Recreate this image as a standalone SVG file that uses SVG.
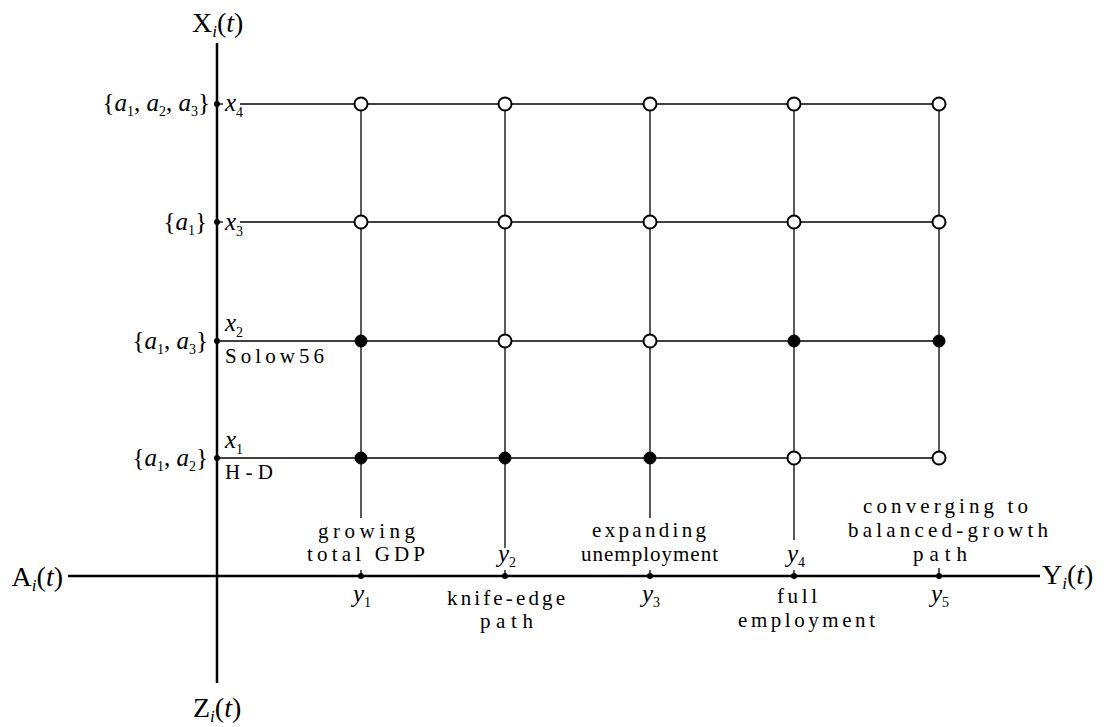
<svg xmlns="http://www.w3.org/2000/svg" width="1107" height="727" viewBox="0 0 1107 727">
<style>
.ax{stroke:#000;stroke-width:2.5;fill:none}
.gl{stroke:#000;stroke-width:1.3;fill:none}
.open{fill:#fff;stroke:#000;stroke-width:2}
.full{fill:#000;stroke:#000;stroke-width:1}
.dot{fill:#000}
.m{font-family:"Liberation Serif","Times New Roman",serif;font-size:28px;fill:#000}
.s{font-family:"Liberation Serif","Times New Roman",serif;font-size:25px;fill:#000}
.it{font-style:italic}
.sub{font-size:14px;font-style:normal}
.subi{font-size:17px;font-style:italic}
.lb{font-family:"Liberation Serif","Times New Roman",serif;font-size:21px;fill:#000}
</style>
<rect width="1107" height="727" fill="#fff"/>
<g id="connectors">
  <line class="ax" x1="217" y1="43" x2="217" y2="683"/>
  <line class="ax" x1="68" y1="576" x2="1040" y2="576"/>
  <line class="gl" x1="240" y1="104" x2="939" y2="104"/>
  <line class="gl" x1="240" y1="222" x2="939" y2="222"/>
  <line class="gl" x1="217" y1="341" x2="939" y2="341"/>
  <line class="gl" x1="217" y1="458" x2="939" y2="458"/>
  <line class="gl" x1="217" y1="104" x2="223" y2="104"/>
  <line class="gl" x1="217" y1="222" x2="223" y2="222"/>
  <line class="gl" x1="361" y1="104" x2="361" y2="518"/>
  <line class="gl" x1="505" y1="104" x2="505" y2="548"/>
  <line class="gl" x1="650" y1="104" x2="650" y2="518"/>
  <line class="gl" x1="794" y1="104" x2="794" y2="540"/>
  <line class="gl" x1="939" y1="104" x2="939" y2="458"/>
  <line class="gl" x1="361" y1="570" x2="361" y2="576"/>
  <line class="gl" x1="505" y1="570" x2="505" y2="576"/>
  <line class="gl" x1="650" y1="570" x2="650" y2="576"/>
  <line class="gl" x1="794" y1="570" x2="794" y2="576"/>
  <line class="gl" x1="939" y1="568" x2="939" y2="576"/>
</g>
<g id="axis-labels">
  <text class="m" x="192" y="32">X<tspan class="subi" dy="5">i</tspan><tspan dy="-5">(</tspan><tspan class="it">t</tspan>)</text>
  <text class="m" x="63" y="586" text-anchor="end">A<tspan class="subi" dy="5">i</tspan><tspan dy="-5">(</tspan><tspan class="it">t</tspan>)</text>
  <text class="m" x="1042" y="584">Y<tspan class="subi" dy="5">i</tspan><tspan dy="-5">(</tspan><tspan class="it">t</tspan>)</text>
  <text class="m" x="193" y="717">Z<tspan class="subi" dy="5">i</tspan><tspan dy="-5">(</tspan><tspan class="it">t</tspan>)</text>
</g>
<g id="x-axis-points">
  <g id="x4">
    <circle class="dot" cx="217" cy="104" r="3"/>
    <text class="s" x="210" y="111" text-anchor="end">{<tspan class="it">a</tspan><tspan class="sub" dy="5">1</tspan><tspan dy="-5">, </tspan><tspan class="it">a</tspan><tspan class="sub" dy="5">2</tspan><tspan dy="-5">, </tspan><tspan class="it">a</tspan><tspan class="sub" dy="5">3</tspan><tspan dy="-5">}</tspan></text>
    <text class="s it" x="225" y="111">x<tspan class="sub" dy="6">4</tspan></text>
  </g>
  <g id="x3">
    <circle class="dot" cx="217" cy="222" r="3"/>
    <text class="s" x="207" y="230" text-anchor="end">{<tspan class="it">a</tspan><tspan class="sub" dy="5">1</tspan><tspan dy="-5">}</tspan></text>
    <text class="s it" x="225" y="230">x<tspan class="sub" dy="6">3</tspan></text>
  </g>
  <g id="x2">
    <circle class="dot" cx="217" cy="341" r="3"/>
    <text class="s" x="208" y="349" text-anchor="end">{<tspan class="it">a</tspan><tspan class="sub" dy="5">1</tspan><tspan dy="-5">, </tspan><tspan class="it">a</tspan><tspan class="sub" dy="5">3</tspan><tspan dy="-5">}</tspan></text>
    <text class="s it" x="225" y="331">x<tspan class="sub" dy="6">2</tspan></text>
    <text class="lb" x="225" y="363" textLength="99" lengthAdjust="spacing">Solow56</text>
  </g>
  <g id="x1">
    <circle class="dot" cx="217" cy="458" r="3"/>
    <text class="s" x="208" y="466" text-anchor="end">{<tspan class="it">a</tspan><tspan class="sub" dy="5">1</tspan><tspan dy="-5">, </tspan><tspan class="it">a</tspan><tspan class="sub" dy="5">2</tspan><tspan dy="-5">}</tspan></text>
    <text class="s it" x="225" y="448">x<tspan class="sub" dy="6">1</tspan></text>
    <text class="lb" x="225" y="479" textLength="48" lengthAdjust="spacing">H-D</text>
  </g>
</g>
<g id="y-axis-points">
  <g id="y1">
    <circle class="dot" cx="361" cy="576" r="3"/>
    <text class="s it" x="353" y="602">y<tspan class="sub" dy="5">1</tspan></text>
    <text class="lb" x="318" y="538" textLength="97" lengthAdjust="spacing">growing</text>
    <text class="lb" x="307" y="561" textLength="118" lengthAdjust="spacing">total GDP</text>
  </g>
  <g id="y2">
    <circle class="dot" cx="505" cy="576" r="3"/>
    <text class="s it" x="498" y="562">y<tspan class="sub" dy="5">2</tspan></text>
    <text class="lb" x="447" y="605" textLength="118" lengthAdjust="spacing">knife-edge</text>
    <text class="lb" x="480" y="628" textLength="53" lengthAdjust="spacing">path</text>
  </g>
  <g id="y3">
    <circle class="dot" cx="650" cy="576" r="3"/>
    <text class="s it" x="642" y="602">y<tspan class="sub" dy="5">3</tspan></text>
    <text class="lb" x="592" y="537" textLength="114" lengthAdjust="spacing">expanding</text>
    <text class="lb" x="581" y="561" textLength="137" lengthAdjust="spacing">unemployment</text>
  </g>
  <g id="y4">
    <circle class="dot" cx="794" cy="576" r="3"/>
    <text class="s it" x="787" y="562">y<tspan class="sub" dy="5">4</tspan></text>
    <text class="lb" x="777" y="603" textLength="40" lengthAdjust="spacing">full</text>
    <text class="lb" x="738" y="627" textLength="137" lengthAdjust="spacing">employment</text>
  </g>
  <g id="y5">
    <circle class="dot" cx="939" cy="576" r="3"/>
    <text class="s it" x="931" y="602">y<tspan class="sub" dy="5">5</tspan></text>
    <text class="lb" x="863" y="513" textLength="165" lengthAdjust="spacing">converging to</text>
    <text class="lb" x="848" y="537" textLength="200" lengthAdjust="spacing">balanced-growth</text>
    <text class="lb" x="913" y="561" textLength="54" lengthAdjust="spacing">path</text>
  </g>
</g>
<g id="states">
  <g id="r4"><circle class="open" cx="361" cy="104" r="6.5"/><circle class="open" cx="505" cy="104" r="6.5"/><circle class="open" cx="650" cy="104" r="6.5"/><circle class="open" cx="794" cy="104" r="6.5"/><circle class="open" cx="939" cy="104" r="6.5"/></g>
  <g id="r3"><circle class="open" cx="361" cy="222" r="6.5"/><circle class="open" cx="505" cy="222" r="6.5"/><circle class="open" cx="650" cy="222" r="6.5"/><circle class="open" cx="794" cy="222" r="6.5"/><circle class="open" cx="939" cy="222" r="6.5"/></g>
  <g id="r2"><circle class="full" cx="361" cy="341" r="6"/><circle class="open" cx="505" cy="341" r="6.5"/><circle class="open" cx="650" cy="341" r="6.5"/><circle class="full" cx="794" cy="341" r="6"/><circle class="full" cx="939" cy="341" r="6"/></g>
  <g id="r1"><circle class="full" cx="361" cy="458" r="6"/><circle class="full" cx="505" cy="458" r="6"/><circle class="full" cx="650" cy="458" r="6"/><circle class="open" cx="794" cy="458" r="6.5"/><circle class="open" cx="939" cy="458" r="6.5"/></g>
</g>
</svg>
